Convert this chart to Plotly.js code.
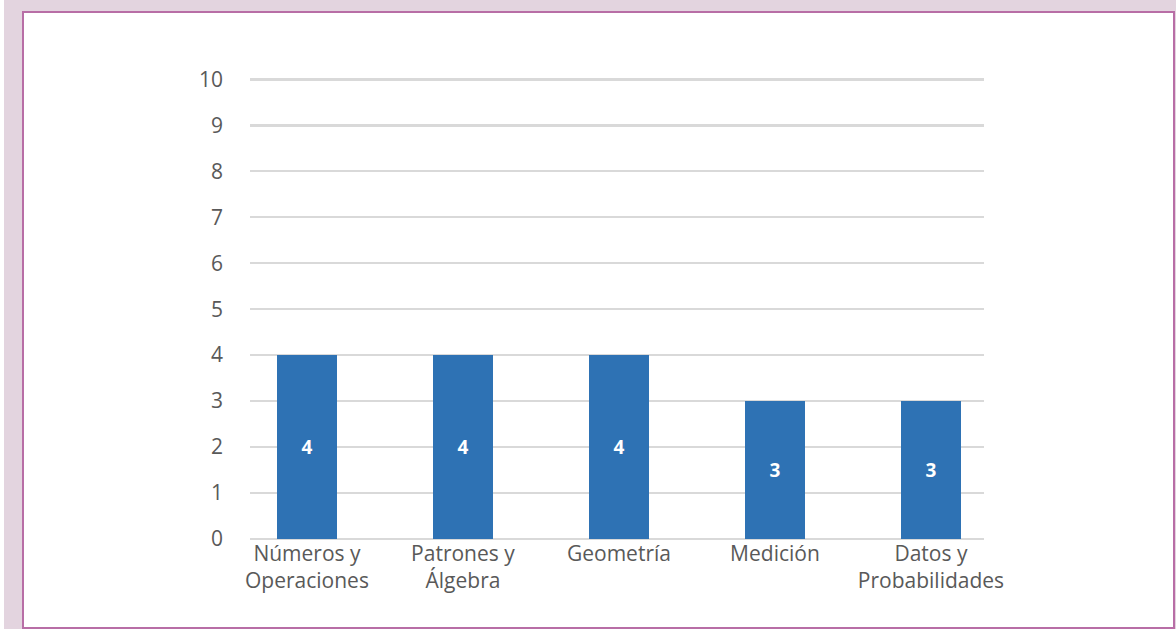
<!DOCTYPE html>
<html>
<head>
<meta charset="utf-8">
<script src="https://cdn.plot.ly/plotly-3.0.1.min.js"></script>
<style>
  html, body { margin:0; padding:0; background:#ffffff; width:1176px; height:629px; overflow:hidden; }
  #strip { position:absolute; left:4px; top:0; width:1172px; height:629px; background:#e3d4df; }
  #frame { position:absolute; left:22px; top:11px; width:1149px; height:614px; background:#ffffff; border:2px solid #b86ea6; }
  #chart { position:absolute; left:0; top:0; width:1176px; height:629px; }
</style>
</head>
<body>
<div id="strip"></div>
<div id="frame"></div>
<div id="chart"></div>
<script>
const categories = ["Números y<br>Operaciones", "Patrones y<br>Álgebra", "Geometría", "Medición", "Datos y<br>Probabilidades"];
const values = [4, 4, 4, 3, 3];
const yTicks = [0,1,2,3,4,5,6,7,8,9,10];

const trace = {
  type: 'bar',
  x: categories.map((c, i) => i),
  y: values,
  width: 0.38,
  marker: { color: '#2e72b4' },
  text: values.map(String),
  textposition: 'inside',
  insidetextanchor: 'middle',
  textfont: { family: 'Open Sans, sans-serif', size: 19, color: '#ffffff', weight: 'bold' },
  hoverinfo: 'none'
};

const layout = {
  width: 1176, height: 629,
  margin: { l: 250, r: 192, t: 77, b: 90 },
  paper_bgcolor: 'rgba(0,0,0,0)',
  plot_bgcolor: 'rgba(0,0,0,0)',
  showlegend: false,
  bargap: 0,
  xaxis: {
    range: [-0.365, 4.34],
    tickmode: 'array',
    tickvals: categories.map((c, i) => i),
    ticktext: categories,
    showgrid: false, zeroline: false, showline: false, ticks: '',
    tickfont: { family: 'Open Sans, sans-serif', size: 21, color: '#595959' },
    fixedrange: true
  },
  yaxis: {
    range: [0, 10.05],
    tickmode: 'array',
    tickvals: yTicks,
    ticktext: yTicks.map(String),
    showgrid: true, gridcolor: '#d9d9d9', gridwidth: 2.5,
    zeroline: true, zerolinecolor: '#d9d9d9', zerolinewidth: 2.5,
    showline: false, ticks: '',
    ticklabelstandoff: 26,
    tickfont: { family: 'Open Sans, sans-serif', size: 21, color: '#595959' },
    fixedrange: true
  }
};

Plotly.newPlot('chart', [trace], layout, { displayModeBar: false, staticPlot: true });
</script>
</body>
</html>
